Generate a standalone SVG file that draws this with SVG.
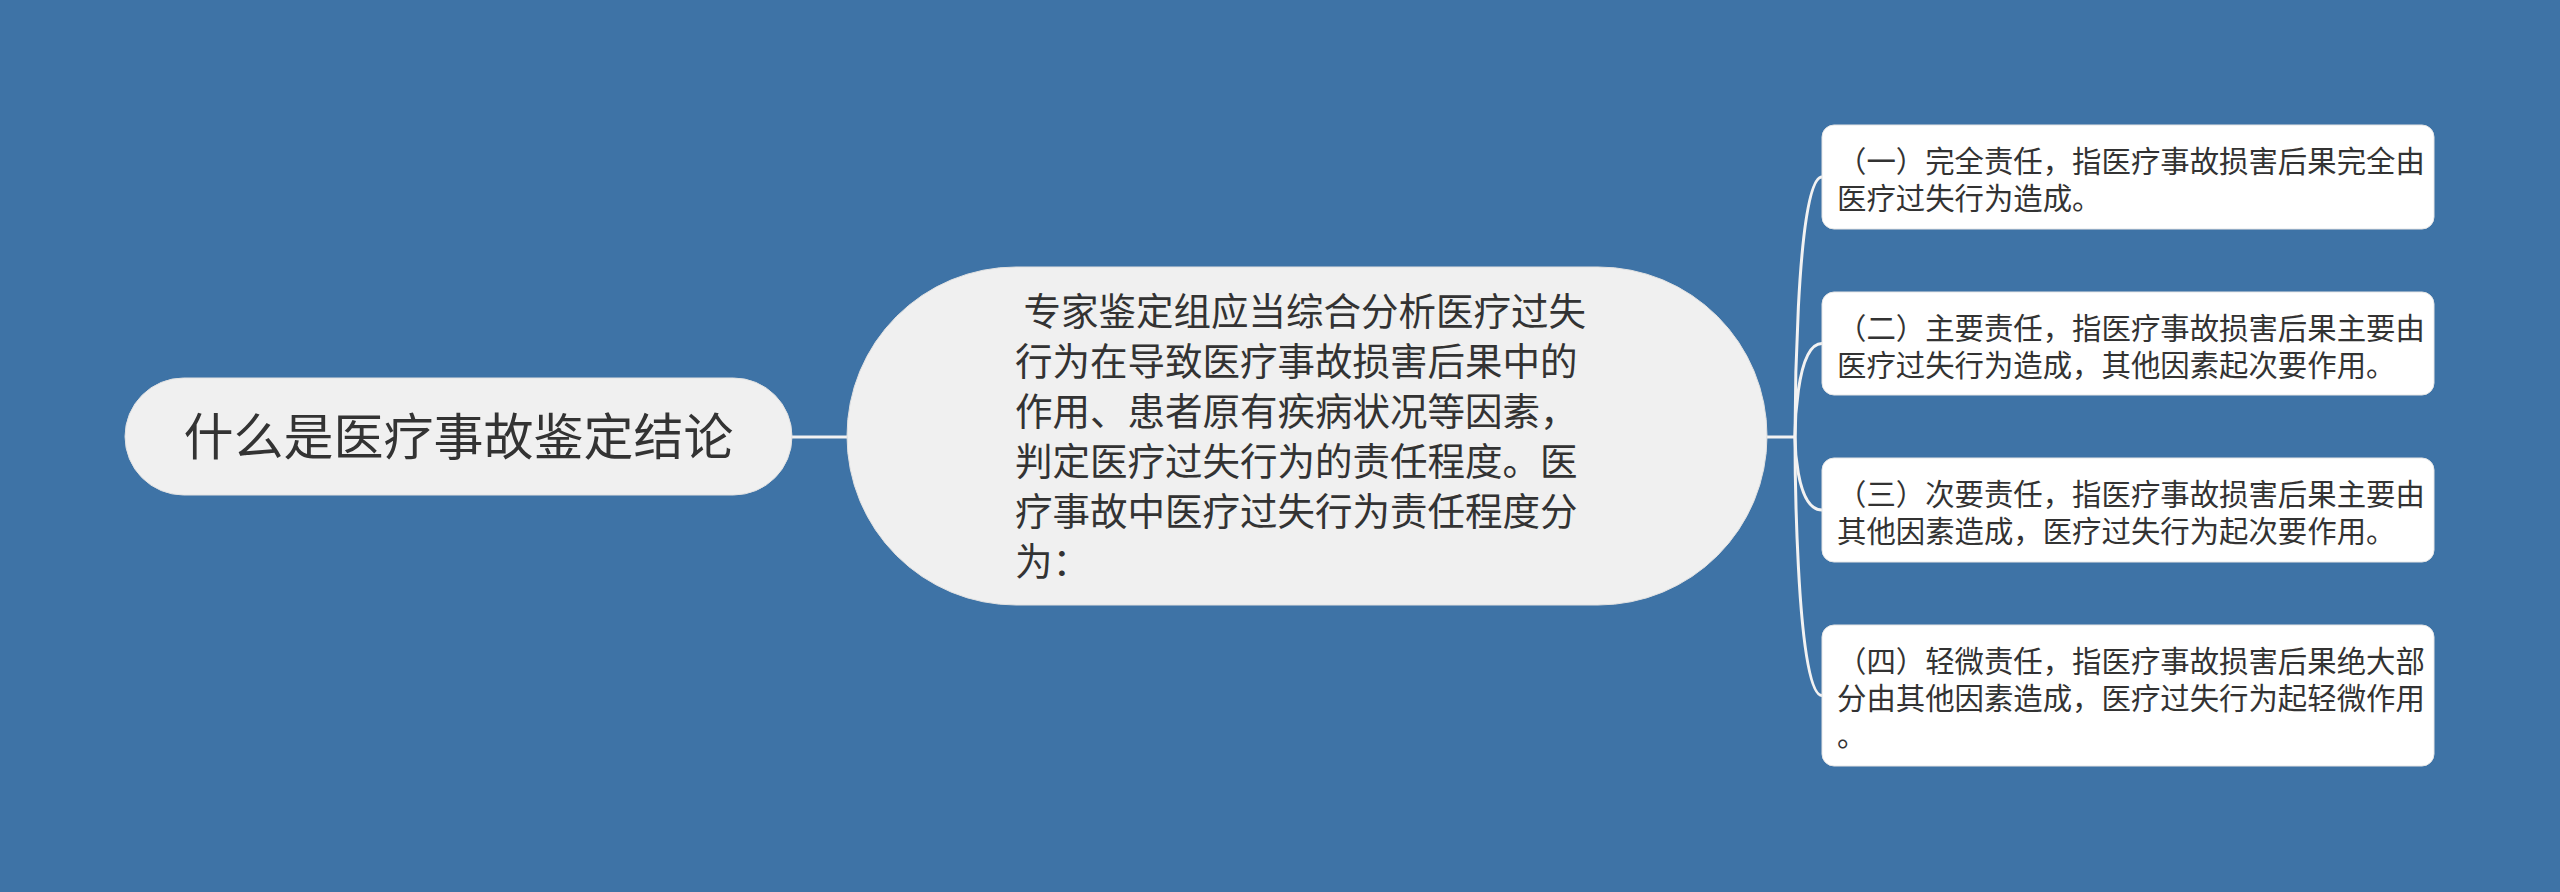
<svg xmlns="http://www.w3.org/2000/svg" width="2560" height="892" viewBox="0 0 2560 892">
<style>
.t{font-family:"Noto Sans CJK SC","Noto Sans",sans-serif;fill:#333333}
.root{font-size:50px}
.mid{font-size:37.5px}
.leaf{font-size:29.4px}
.pill{fill:#f0f0f0;stroke:#e2e2e2;stroke-width:1}
.box{fill:#ffffff;stroke:#e6e6e6;stroke-width:1}
.ln{fill:none;stroke:#f2f2f2;stroke-width:3}
</style>
<rect x="0" y="0" width="2560" height="892" fill="#3e73a6"/>
<g id="connectors">
<path class="ln" d="M792 437 H847"/>
<path class="ln" d="M1767 437 H1795"/>
<path class="ln" d="M1795 437 C1795 437 1795 177 1822 177"/>
<path class="ln" d="M1795 437 C1795 437 1795 343.5 1822 343.5"/>
<path class="ln" d="M1795 437 C1795 437 1795 510 1822 510"/>
<path class="ln" d="M1795 437 C1795 437 1795 695.5 1822 695.5"/>
</g>
<g id="node-root">
<rect class="pill" x="125" y="378" width="667" height="117" rx="58.5" ry="58.5"/>
<text class="t root" x="458.5" y="455" text-anchor="middle">什么是医疗事故鉴定结论</text>
</g>
<g id="node-center">
<rect class="pill" x="847" y="267" width="920" height="338" rx="169" ry="169"/>
<text class="t mid" xml:space="preserve"><tspan x="1015" y="325"> 专家鉴定组应当综合分析医疗过失</tspan><tspan x="1015" y="375">行为在导致医疗事故损害后果中的</tspan><tspan x="1015" y="425">作用、患者原有疾病状况等因素，</tspan><tspan x="1015" y="475">判定医疗过失行为的责任程度。医</tspan><tspan x="1015" y="525">疗事故中医疗过失行为责任程度分</tspan><tspan x="1015" y="575">为：</tspan></text>
</g>
<g id="node-1">
<rect class="box" x="1822" y="125" width="612" height="104" rx="12" ry="12"/>
<text class="t leaf"><tspan x="1837" y="172">（一）完全责任，指医疗事故损害后果完全由</tspan><tspan x="1837" y="209">医疗过失行为造成。</tspan></text>
</g>
<g id="node-2">
<rect class="box" x="1822" y="292" width="612" height="103" rx="12" ry="12"/>
<text class="t leaf"><tspan x="1837" y="339">（二）主要责任，指医疗事故损害后果主要由</tspan><tspan x="1837" y="376">医疗过失行为造成，其他因素起次要作用。</tspan></text>
</g>
<g id="node-3">
<rect class="box" x="1822" y="458" width="612" height="104" rx="12" ry="12"/>
<text class="t leaf"><tspan x="1837" y="505">（三）次要责任，指医疗事故损害后果主要由</tspan><tspan x="1837" y="542">其他因素造成，医疗过失行为起次要作用。</tspan></text>
</g>
<g id="node-4">
<rect class="box" x="1822" y="625" width="612" height="141" rx="12" ry="12"/>
<text class="t leaf"><tspan x="1837" y="672">（四）轻微责任，指医疗事故损害后果绝大部</tspan><tspan x="1837" y="709">分由其他因素造成，医疗过失行为起轻微作用</tspan><tspan x="1837" y="746">。</tspan></text>
</g>
</svg>
